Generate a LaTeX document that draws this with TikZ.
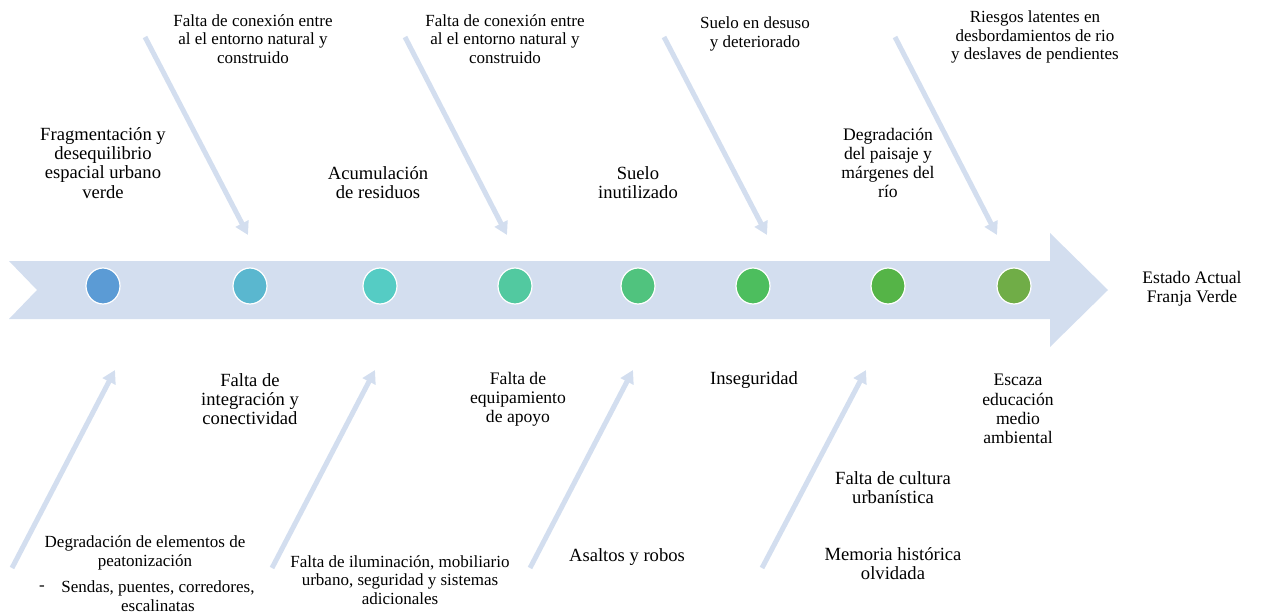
\documentclass[tikz,border=0pt]{standalone}
\usepackage{fontspec}
\setmainfont{Liberation Serif}
\usetikzlibrary{arrows.meta,shapes.geometric}
\definecolor{band}{HTML}{D3DEEF}
\definecolor{c1}{HTML}{5B9BD5}
\definecolor{c2}{HTML}{5AB7CF}
\definecolor{c3}{HTML}{55CCC4}
\definecolor{c4}{HTML}{52C9A0}
\definecolor{c5}{HTML}{50C37E}
\definecolor{c6}{HTML}{4DBE5E}
\definecolor{c7}{HTML}{55B447}
\definecolor{c8}{HTML}{70AD47}
\tikzset{
  dot/.style={ellipse,draw=white,line width=1.2pt,minimum width=34pt,minimum height=36pt,inner sep=0pt},
  lbl/.style={align=center,inner sep=0pt,font=\fontsize{18.6}{19.2}\selectfont},
  mlbl/.style={align=center,inner sep=0pt,font=\fontsize{17.6}{19.2}\selectfont},
  slbl/.style={align=center,inner sep=0pt,font=\fontsize{17}{18.8}\selectfont},
  cause/.style={draw=band,line width=5pt,-{Triangle[width=14pt,length=13pt]}}
}
\begin{document}
\begin{tikzpicture}[x=1pt,y=-1pt]
\useasboundingbox (0,0) rectangle (1262,613);
% main arrow
\fill[band] (9,261) -- (1050,261) -- (1050,233) -- (1108,290) -- (1050,347) -- (1050,319) -- (9,319) -- (37,290) -- cycle;
% dots
\node[dot,fill=c1] (d1) at (103,286) {};
\node[dot,fill=c2] (d2) at (250,286) {};
\node[dot,fill=c3] (d3) at (380,286) {};
\node[dot,fill=c4] (d4) at (515,286) {};
\node[dot,fill=c5] (d5) at (638,286) {};
\node[dot,fill=c6] (d6) at (753,286) {};
\node[dot,fill=c7] (d7) at (888,286) {};
\node[dot,fill=c8] (d8) at (1014,286) {};
% end label
\node[mlbl] (res) at (1192,289) {Estado Actual\\Franja Verde};
% top arrows
\coordinate (ta1) at (145,37);  \coordinate (tb1) at (248,235);
\coordinate (ta2) at (405,37);  \coordinate (tb2) at (507,235);
\coordinate (ta3) at (664,37);  \coordinate (tb3) at (767,235);
\coordinate (ta4) at (895,37);  \coordinate (tb4) at (997,235);
\draw[cause] (ta1) -- (tb1);
\draw[cause] (ta2) -- (tb2);
\draw[cause] (ta3) -- (tb3);
\draw[cause] (ta4) -- (tb4);
% bottom arrows
\coordinate (ba1) at (12,568);  \coordinate (bb1) at (115,370);
\coordinate (ba2) at (272,568); \coordinate (bb2) at (375,370);
\coordinate (ba3) at (530,568); \coordinate (bb3) at (633,370);
\coordinate (ba4) at (762,568); \coordinate (bb4) at (866,370);
\draw[cause] (ba1) -- (bb1);
\draw[cause] (ba2) -- (bb2);
\draw[cause] (ba3) -- (bb3);
\draw[cause] (ba4) -- (bb4);
% top labels
\node[lbl] (t1) at (103,163) {Fragmentación y\\desequilibrio\\espacial urbano\\verde};
\node[slbl] (t2) at (253,39) {Falta de conexión entre\\al el entorno natural y\\construido};
\node[lbl] (t3) at (378,183) {Acumulación\\de residuos};
\node[slbl] (t4) at (505,39) {Falta de conexión entre\\al el entorno natural y\\construido};
\node[lbl] (t5) at (638,183) {Suelo\\inutilizado};
\node[slbl] (t6) at (755,34) {Suelo en desuso\\y deteriorado};
\node[mlbl] (t7) at (888,163) {Degradación\\del paisaje y\\márgenes del\\río};
\node[slbl] (t8) at (1035,37) {Riesgos latentes en\\desbordamientos de rio\\y deslaves de pendientes};
% bottom labels
\node[lbl] (b1) at (250,399) {Falta de\\integración y\\conectividad};
\node[mlbl] (b2) at (518,399) {Falta de\\equipamiento\\de apoyo};
\node[lbl] (b3) at (754,380) {Inseguridad};
\node[mlbl] (b4) at (1018,409) {Escaza\\educación\\medio\\ambiental};
\node[lbl] (b5) at (893,488) {Falta de cultura\\urbanística};
\node[lbl] (b6) at (893,564) {Memoria histórica\\olvidada};
\node[lbl] (b7) at (627,557) {Asaltos y robos};
\node[slbl] (b8) at (400,580) {Falta de iluminación, mobiliario\\urbano, seguridad y sistemas\\adicionales};
\node[slbl] (b9) at (145,553) {Degradación de elementos de\\peatonización};
\node[slbl] (b10) at (158,596) {Sendas, puentes, corredores,\\escalinatas};
\node[slbl] (b11) at (42,588) {-};
\end{tikzpicture}
\end{document}
